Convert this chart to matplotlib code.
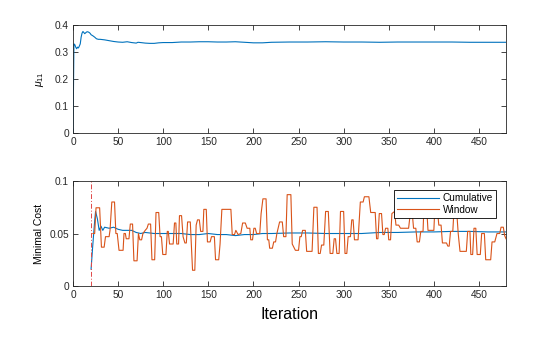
import numpy as np
import matplotlib
matplotlib.use("Agg")
import matplotlib.pyplot as plt

plt.rcParams['font.family'] = ['Liberation Sans', 'DejaVu Sans']
plt.rcParams['mathtext.fontset'] = 'custom'
plt.rcParams['mathtext.rm'] = 'Liberation Sans'
plt.rcParams['mathtext.it'] = 'Liberation Sans:italic'

# ---- data ----
# top panel: mu_11 over iterations
iter_mu = [0, 1, 2, 3, 4, 5, 6, 7, 8, 9, 10, 11, 12, 13, 14, 15, 16, 17, 18, 19,
           20, 22, 24, 26, 28, 30, 35, 40, 45, 50, 55, 60, 65, 70, 72, 75, 80, 85,
           90, 95, 100, 110, 120, 130, 140, 150, 160, 170, 180, 190, 200, 210,
           220, 240, 260, 280, 300, 320, 340, 360, 380, 400, 420, 440, 460, 480]
mu11 = [0.0, 0.330, 0.327, 0.318, 0.312, 0.318, 0.315, 0.322, 0.330, 0.355, 0.370,
        0.376, 0.372, 0.368, 0.371, 0.374, 0.375, 0.374, 0.372, 0.369,
        0.364, 0.360, 0.355, 0.349, 0.347, 0.347, 0.345, 0.342, 0.339, 0.337,
        0.336, 0.338, 0.335, 0.333, 0.336, 0.335, 0.333, 0.332, 0.332, 0.334,
        0.335, 0.335, 0.337, 0.337, 0.338, 0.338, 0.337, 0.337, 0.338, 0.336,
        0.334, 0.334, 0.336, 0.337, 0.337, 0.338, 0.337, 0.337, 0.336, 0.337,
        0.337, 0.337, 0.337, 0.336, 0.336, 0.336]

# bottom panel: cumulative minimal cost
iter_cum = [20, 22, 24, 25, 27, 29, 31, 33, 35, 40, 45, 50, 55, 60, 65, 70, 75, 80,
            90, 100, 110, 120, 130, 140, 150, 160, 170, 180, 190, 200, 210, 220,
            240, 260, 280, 300, 320, 340, 360, 380, 400, 420, 440, 460, 480]
cost_cum = [0.016, 0.040, 0.062, 0.071, 0.064, 0.053, 0.057, 0.053, 0.056, 0.055,
            0.056, 0.054, 0.053, 0.053, 0.053, 0.051, 0.050, 0.051, 0.050, 0.050,
            0.050, 0.050, 0.049, 0.049, 0.050, 0.049, 0.049, 0.048, 0.049, 0.049,
            0.050, 0.050, 0.0505, 0.0505, 0.050, 0.050, 0.050, 0.051, 0.051,
            0.0515, 0.0515, 0.052, 0.052, 0.0515, 0.0515]

# bottom panel: windowed minimal cost
iter_win = [22, 24, 25.5, 29.5, 31.5, 34.5, 36, 40, 41, 43, 46, 47.5, 49, 51, 55.5,
            56.5, 58, 59, 62, 63.5, 66, 67.5, 71, 72.5, 74, 76, 77.5, 80, 82, 83.5,
            86, 87.5, 90.5, 92, 95, 96.5, 98, 99.5, 103, 104.5, 105.6, 107, 111,
            112.5, 114, 115, 117, 118, 120.3, 122, 124, 125.6, 127, 130, 132.5,
            135, 136.5, 138, 140, 141.5, 144, 145, 147.7, 149, 152, 153.5, 156.7,
            158, 161.5, 163, 165, 175, 176.5, 179, 180.5, 183, 186, 188, 191, 193,
            196, 197, 199, 200.5, 202, 203.5, 207, 208.5, 210.5, 214, 215.5, 217,
            218, 221, 222.5, 224.5, 226, 229, 232, 233.5, 236, 237.4, 241.5, 243,
            246.5, 250, 251.5, 253, 254.5, 257.5, 259, 265, 267, 270.5, 272, 274,
            275.5, 278, 280, 283, 285, 288, 289.5, 291, 292.5, 295, 296.5, 300,
            301.5, 303.5, 305, 307.5, 309, 310.5, 312, 316, 318.5, 321.6, 323, 328,
            330, 335, 336.5, 338, 339.5, 342, 343.5, 345, 346.5, 349, 350, 352,
            353.5, 356.5, 358, 361, 363, 372, 374, 376, 377.5, 380, 381.5, 384,
            385.5, 388, 389, 392, 393.5, 400, 401, 404, 405.5, 408, 409.5, 414,
            415.5, 417, 418.5, 421, 422.5, 425, 427, 429, 436, 437.5, 440, 441,
            443, 444.5, 446.5, 448, 451.5, 453, 456, 457.5, 463, 464.5, 467.5, 470,
            473, 474.5, 477, 478.5, 480]
cost_win = [0.050, 0.050, 0.0745, 0.0745, 0.037, 0.037, 0.047, 0.047, 0.053, 0.080,
            0.080, 0.050, 0.050, 0.034, 0.034, 0.050, 0.050, 0.045, 0.045, 0.059,
            0.059, 0.024, 0.024, 0.050, 0.044, 0.044, 0.050, 0.053, 0.055, 0.059,
            0.059, 0.025, 0.025, 0.070, 0.070, 0.047, 0.047, 0.030, 0.030, 0.052,
            0.052, 0.040, 0.040, 0.060, 0.060, 0.040, 0.040, 0.067, 0.067, 0.047,
            0.041, 0.041, 0.061, 0.061, 0.015, 0.015, 0.058, 0.063, 0.063, 0.052,
            0.052, 0.073, 0.073, 0.042, 0.042, 0.047, 0.047, 0.025, 0.025, 0.040,
            0.073, 0.073, 0.049, 0.049, 0.053, 0.049, 0.050, 0.060, 0.060, 0.055,
            0.055, 0.044, 0.044, 0.055, 0.055, 0.050, 0.050, 0.069, 0.083, 0.083,
            0.044, 0.044, 0.036, 0.036, 0.042, 0.042, 0.050, 0.061, 0.061, 0.047,
            0.047, 0.087, 0.087, 0.040, 0.034, 0.034, 0.047, 0.047, 0.053, 0.053,
            0.033, 0.033, 0.075, 0.075, 0.031, 0.031, 0.039, 0.039, 0.071, 0.071,
            0.031, 0.031, 0.045, 0.045, 0.031, 0.031, 0.071, 0.071, 0.031, 0.031,
            0.047, 0.047, 0.063, 0.063, 0.044, 0.044, 0.080, 0.080, 0.085, 0.085,
            0.070, 0.070, 0.045, 0.045, 0.069, 0.069, 0.049, 0.049, 0.055, 0.055,
            0.044, 0.044, 0.069, 0.071, 0.058, 0.058, 0.055, 0.055, 0.070, 0.070,
            0.055, 0.055, 0.042, 0.042, 0.052, 0.052, 0.075, 0.075, 0.053, 0.053,
            0.072, 0.072, 0.058, 0.058, 0.041, 0.041, 0.038, 0.038, 0.052, 0.052,
            0.075, 0.075, 0.050, 0.033, 0.033, 0.052, 0.052, 0.030, 0.030, 0.055,
            0.055, 0.030, 0.030, 0.050, 0.050, 0.025, 0.025, 0.042, 0.042, 0.050,
            0.050, 0.056, 0.056, 0.048, 0.045]

window_start = 20

blue = '#0072BD'
orange = '#D95319'
axcol = '#262626'


def style_axes(ax):
    for s in ax.spines.values():
        s.set_linewidth(0.6)
        s.set_color(axcol)
    ax.tick_params(direction='in', length=3.5, width=0.6, top=True, right=True,
                   labelsize=7.3, colors=axcol, pad=3)
    ax.set_xlim(0, 480)
    ax.set_xticks(np.arange(0, 451, 50))


fig = plt.figure(figsize=(5.6, 3.37), dpi=100)
ax1 = fig.add_axes([0.1304, 0.6053, 0.7732, 0.3205])
ax2 = fig.add_axes([0.1304, 0.1513, 0.7732, 0.3116])

# top panel
ax1.plot(iter_mu, mu11, color=blue, lw=0.8)
ax1.set_ylim(0, 0.4)
ax1.set_yticks([0, 0.1, 0.2, 0.3, 0.4])
ax1.set_yticklabels(['0', '0.1', '0.2', '0.3', '0.4'])
ax1.set_ylabel(r'$\mu_{11}$', fontsize=7.5, labelpad=6)
style_axes(ax1)

# bottom panel
ax2.plot(iter_cum, cost_cum, color=blue, lw=0.8, label='Cumulative')
ax2.plot(iter_win, cost_win, color=orange, lw=0.8, label='Window')
ax2.plot([window_start, window_start], [0, 0.1], color='#E04848', lw=0.7,
         ls=(0, (5, 2, 1, 2)))
ax2.set_ylim(0, 0.1)
ax2.set_yticks([0, 0.05, 0.1])
ax2.set_yticklabels(['0', '0.05', '0.1'])
ax2.set_ylabel('Minimal Cost', fontsize=7.5, labelpad=4)
ax2.set_xlabel('Iteration', fontsize=11.5, labelpad=5)
style_axes(ax2)

leg = ax2.legend(loc='upper right', bbox_to_anchor=(0.977, 0.914),
                 borderaxespad=0, fontsize=7.2, handlelength=4.2,
                 handletextpad=0.4, borderpad=0.3, labelspacing=0.15,
                 fancybox=False, framealpha=1)
leg.get_frame().set_edgecolor('black')
leg.get_frame().set_linewidth(0.6)

fig.savefig('out.png', dpi=100)
